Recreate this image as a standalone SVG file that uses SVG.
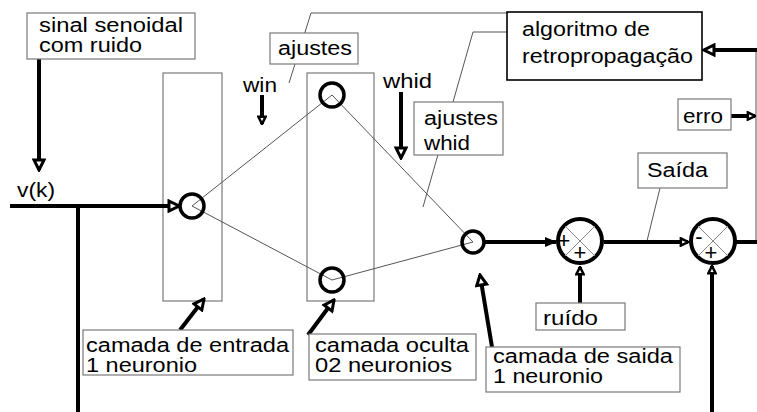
<svg xmlns="http://www.w3.org/2000/svg" width="757" height="412" viewBox="0 0 757 412">
  <style>
    text { font-family: "Liberation Sans", Arial, sans-serif; font-size: 20px; fill: #000; }
    .box { fill: #fff; stroke: #7a7a7a; stroke-width: 1.2; }
    .layer { fill: none; stroke: #7a7a7a; stroke-width: 1.2; }
    .thin { fill: none; stroke: #555; stroke-width: 1; }
    .cross { fill: none; stroke: #888; stroke-width: 1; }
    .wire { fill: none; stroke: #000; stroke-width: 4; }
    .neuron { fill: none; stroke: #000; stroke-width: 3.5; }
    .sum { fill: #fff; stroke: #000; stroke-width: 4; }
    .sign { font-size: 22px; text-anchor: middle; }
  </style>
  <defs>
    <marker id="open" markerUnits="userSpaceOnUse" viewBox="0 0 14 14" markerWidth="14" markerHeight="14" refX="12" refY="7" orient="auto">
      <path d="M2,2 L12,7 L2,12 z" fill="#fff" stroke="#000" stroke-width="3" stroke-linejoin="miter"/>
    </marker>
    <marker id="openS" markerUnits="userSpaceOnUse" viewBox="0 0 14 14" markerWidth="10" markerHeight="10" refX="12" refY="7" orient="auto">
      <path d="M2,2 L12,7 L2,12 z" fill="#fff" stroke="#000" stroke-width="3.5" stroke-linejoin="miter"/>
    </marker>
    <marker id="solid" markerUnits="userSpaceOnUse" viewBox="0 0 14 14" markerWidth="14" markerHeight="14" refX="12" refY="7" orient="auto">
      <path d="M1,2 L13,7 L1,12 z" fill="#000"/>
    </marker>
  </defs>

  <!-- leader lines to the backpropagation block and labels -->
  <g id="leaders">
    <polyline class="thin" points="289,83 311,13 507,13"/>
    <polyline class="thin" points="423,207 473,32 507,32"/>
    <line class="thin" x1="647" y1="241" x2="660" y2="188"/>
    <line class="thin" x1="756" y1="50" x2="756" y2="242"/>
  </g>

  <!-- layer frames -->
  <g id="input-layer"><rect class="layer" x="163" y="73" width="59" height="228"/></g>
  <g id="hidden-layer"><rect class="layer" x="307" y="73" width="67" height="228"/></g>

  <!-- weights between neurons -->
  <g id="weights">
    <polyline class="thin" points="332,95 192,206 332,280"/>
    <polyline class="thin" points="332,95 473,242 332,280"/>
  </g>

  <!-- signal connectors -->
  <g id="connectors">
    <line class="wire" x1="39" y1="59" x2="39" y2="170" marker-end="url(#open)"/>
    <line class="wire" x1="10" y1="206" x2="179" y2="206" marker-end="url(#open)"/>
    <line class="wire" x1="78" y1="206" x2="78" y2="412"/>
    <line class="wire" x1="262" y1="95" x2="262" y2="124" marker-end="url(#openS)"/>
    <line class="wire" x1="401" y1="92" x2="401" y2="158" marker-end="url(#open)"/>
    <line class="wire" x1="485" y1="242" x2="556" y2="242" marker-end="url(#solid)"/>
    <line class="wire" x1="604" y1="242" x2="688" y2="242" marker-end="url(#openS)"/>
    <line class="wire" x1="735" y1="242" x2="757" y2="242"/>
    <line class="wire" x1="580" y1="303" x2="580" y2="267" marker-end="url(#openS)"/>
    <line class="wire" x1="712" y1="412" x2="712" y2="266" marker-end="url(#openS)"/>
    <line class="wire" x1="757" y1="50" x2="704" y2="50" marker-end="url(#open)"/>
    <line class="wire" x1="731" y1="116" x2="755" y2="116" marker-end="url(#openS)"/>
    <line class="wire" x1="180" y1="330" x2="204" y2="299" marker-end="url(#open)"/>
    <line class="wire" x1="308" y1="335" x2="334" y2="300" marker-end="url(#open)"/>
    <line class="wire" x1="492" y1="347" x2="480" y2="275" marker-end="url(#open)"/>
  </g>

  <!-- neurons -->
  <g id="neuron-in"><circle class="neuron" cx="192" cy="206" r="12"/></g>
  <g id="neuron-h1"><circle class="neuron" cx="332" cy="95" r="12"/></g>
  <g id="neuron-h2"><circle class="neuron" cx="332" cy="280" r="12"/></g>
  <g id="neuron-out"><circle class="neuron" cx="473" cy="242" r="11"/></g>

  <!-- summing junctions -->
  <g id="sum-noise">
    <circle class="sum" cx="580" cy="241" r="22"/>
    <line class="cross" x1="565" y1="226" x2="595" y2="256"/>
    <line class="cross" x1="595" y1="226" x2="565" y2="256"/>
    <text class="sign" x="564" y="248">+</text>
    <text class="sign" x="580" y="260">+</text>
  </g>
  <g id="sum-error">
    <circle class="sum" cx="713" cy="241" r="22"/>
    <line class="cross" x1="698" y1="226" x2="728" y2="256"/>
    <line class="cross" x1="728" y1="226" x2="698" y2="256"/>
    <text class="sign" x="699" y="244">-</text>
    <text class="sign" x="711" y="260">+</text>
  </g>

  <!-- labels -->
  <g id="lbl-sinal">
    <rect class="box" x="27" y="13" width="168" height="46"/>
    <text x="39" y="32" textLength="144" lengthAdjust="spacingAndGlyphs">sinal senoidal</text>
    <text x="39" y="52" textLength="103" lengthAdjust="spacingAndGlyphs">com ruido</text>
  </g>
  <g id="lbl-vk"><text x="17" y="197" textLength="38" lengthAdjust="spacingAndGlyphs">v(k)</text></g>
  <g id="lbl-win"><text x="243" y="92" textLength="34" lengthAdjust="spacingAndGlyphs">win</text></g>
  <g id="lbl-whid"><text x="383" y="88" textLength="49" lengthAdjust="spacingAndGlyphs">whid</text></g>
  <g id="lbl-ajustes">
    <rect class="box" x="270" y="33" width="88" height="31"/>
    <text x="278" y="55" textLength="74" lengthAdjust="spacingAndGlyphs">ajustes</text>
  </g>
  <g id="lbl-ajustes-whid">
    <rect class="box" x="414" y="102" width="89" height="53"/>
    <text x="424" y="125" textLength="74" lengthAdjust="spacingAndGlyphs">ajustes</text>
    <text x="424" y="150" textLength="46" lengthAdjust="spacingAndGlyphs">whid</text>
  </g>
  <g id="backprop">
    <rect x="507" y="12" width="195" height="68" fill="#fff" stroke="#000" stroke-width="1.6"/>
    <text x="522" y="36" textLength="128" lengthAdjust="spacingAndGlyphs">algoritmo de</text>
    <text x="522" y="63" textLength="171" lengthAdjust="spacingAndGlyphs">retropropagação</text>
  </g>
  <g id="lbl-erro">
    <rect class="box" x="678" y="99" width="53" height="31"/>
    <text x="683" y="123" textLength="40" lengthAdjust="spacingAndGlyphs">erro</text>
  </g>
  <g id="lbl-saida">
    <rect class="box" x="638" y="153" width="89" height="35"/>
    <text x="647" y="177" textLength="61" lengthAdjust="spacingAndGlyphs">Saída</text>
  </g>
  <g id="lbl-ruido">
    <rect class="box" x="536" y="303" width="89" height="27"/>
    <text x="543" y="325" textLength="55" lengthAdjust="spacingAndGlyphs">ruído</text>
  </g>
  <g id="lbl-entrada">
    <rect class="box" x="83" y="330" width="210" height="45"/>
    <text x="86" y="352" textLength="203" lengthAdjust="spacingAndGlyphs">camada de entrada</text>
    <text x="86" y="372" textLength="111" lengthAdjust="spacingAndGlyphs">1 neuronio</text>
  </g>
  <g id="lbl-oculta">
    <rect class="box" x="309" y="334" width="167" height="46"/>
    <text x="315" y="352" textLength="154" lengthAdjust="spacingAndGlyphs">camada oculta</text>
    <text x="315" y="372" textLength="137" lengthAdjust="spacingAndGlyphs">02 neuronios</text>
  </g>
  <g id="lbl-saida-layer">
    <rect class="box" x="486" y="347" width="194" height="45"/>
    <text x="493" y="363" textLength="180" lengthAdjust="spacingAndGlyphs">camada de saida</text>
    <text x="493" y="383" textLength="110" lengthAdjust="spacingAndGlyphs">1 neuronio</text>
  </g>
</svg>
